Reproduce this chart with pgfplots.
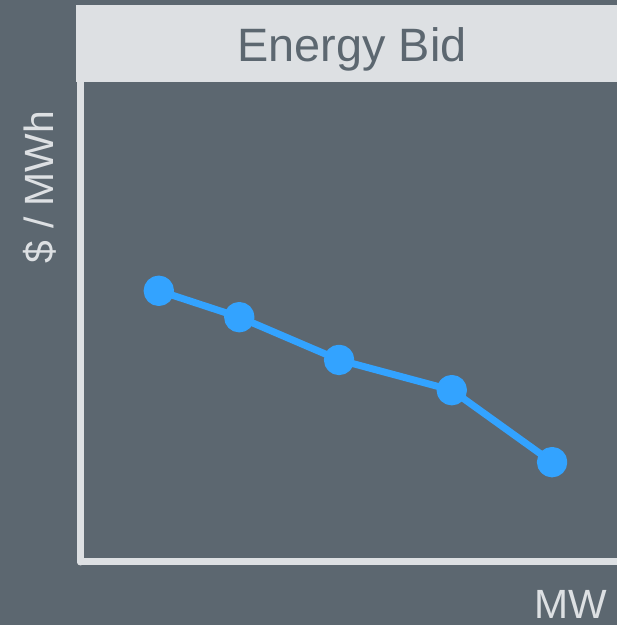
\documentclass[border=0pt]{standalone}
\usepackage{fontspec}
\setmainfont{Liberation Sans}
\usepackage{pgfplots}
\pgfplotsset{compat=1.18}
\definecolor{bg}{RGB}{92,103,112}
\definecolor{light}{RGB}{221,224,227}
\definecolor{bidblue}{RGB}{51,163,255}
\begin{document}
\begin{tikzpicture}[x=1bp,y=1bp]
\useasboundingbox (0,0) rectangle (617,625);
\fill[bg] (0,0) rectangle (617,625);
% title band
\fill[light] (76,543) rectangle (617,620);
\node[text=bg, anchor=base, inner sep=0pt, font=\fontsize{47}{56}\selectfont] at (352,563) {Energy Bid};
% axis labels
\node[text=light, anchor=base, rotate=90, inner sep=0pt, font=\fontsize{41}{49}\selectfont] at (53,438) {\$ / MWh};
\node[text=light, anchor=base east, inner sep=0pt, font=\fontsize{41}{49}\selectfont] at (607,6) {MW};
\begin{axis}[
    at={(80.5bp,63bp)}, anchor=south west,
    scale only axis, width=536.5bp, height=480bp,
    xmin=0, xmax=100, ymin=0, ymax=100,
    axis x line=bottom, axis y line=left,
    axis line style={-, light, line width=7bp, line cap=round},
    ticks=none, clip=false,
  ]
  \addplot[bidblue, line width=7bp, line join=round, mark=*, mark size=11.7bp,
    mark options={fill=bidblue, draw=none}]
    coordinates {(14.6,56.5) (29.6,51.0) (48.2,42.1) (69.2,35.8) (87.9,20.8)};
\end{axis}
\end{tikzpicture}
\end{document}
